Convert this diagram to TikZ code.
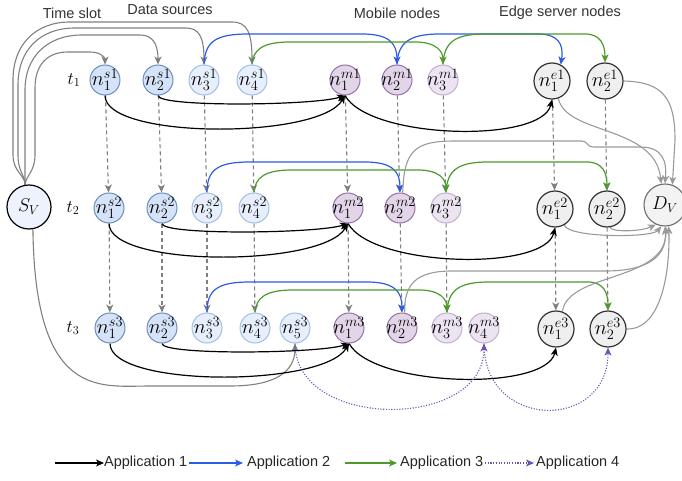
\RequirePackage{fix-cm}
\documentclass[tikz,border=0pt]{standalone}
\usepackage{fontspec}
\newfontfamily\hfont{Liberation Sans}
\usetikzlibrary{arrows.meta,calc}

\definecolor{srcfillA}{HTML}{D4E3F7}
\definecolor{srcdrawA}{HTML}{6C8EBF}
\definecolor{srcfillB}{HTML}{E6EFFB}
\definecolor{srcdrawB}{HTML}{A3BEE3}
\definecolor{mobfillA}{HTML}{E1D5E7}
\definecolor{mobdrawA}{HTML}{9673A6}
\definecolor{mobfillB}{HTML}{EDE4F1}
\definecolor{mobdrawB}{HTML}{C4AED0}
\definecolor{edgefill}{HTML}{EFEFEF}
\definecolor{edgedraw}{HTML}{333333}
\definecolor{svfill}{HTML}{EDF3FC}
\definecolor{dvfill}{HTML}{F3F3F3}
\definecolor{dvdraw}{HTML}{6E6E6E}
\definecolor{linkgray}{HTML}{9A9A9A}
\definecolor{dashgray}{HTML}{808080}
\definecolor{appblue}{HTML}{2D5BE3}
\definecolor{appgreen}{HTML}{4C9A2A}
\definecolor{apppurple}{HTML}{6A52B0}
\definecolor{hdrtext}{HTML}{333333}

\newcommand\nodesz{\fontsize{20.5}{20.5}\selectfont}
\newcommand\slotsz{\fontsize{17.5}{17.5}\selectfont}
\newcommand\termsz{\fontsize{18.5}{18.5}\selectfont}

\pgfdeclarelayer{edges}
\pgfsetlayers{edges,main}

\tikzset{
  nd/.style={circle, minimum size=30pt, inner sep=0pt, line width=1pt},
  lab/.style={font=\nodesz, inner sep=0pt, text=black},
  slotlab/.style={font=\slotsz, inner sep=0pt, text=black},
  termlab/.style={font=\termsz, inner sep=0pt, text=black},
  srcA/.style={nd, fill=srcfillA, draw=srcdrawA},
  srcB/.style={nd, fill=srcfillB, draw=srcdrawB},
  mobA/.style={nd, fill=mobfillA, draw=mobdrawA},
  mobB/.style={nd, fill=mobfillB, draw=mobdrawB},
  edgenode/.style={nd, minimum size=36pt, fill=edgefill, draw=edgedraw, line width=1.2pt},
  svnode/.style={nd, minimum size=44pt, fill=svfill, draw=black, line width=1.2pt},
  dvnode/.style={nd, minimum size=42pt, fill=dvfill, draw=dvdraw, line width=1.1pt},
  arr/.style={-{Stealth[length=8pt,width=7pt,inset=2.2pt]}},
  app1/.style={draw=black, line width=1.2pt, arr},
  app2/.style={draw=appblue, line width=1.2pt, arr},
  app3/.style={draw=appgreen, line width=1.2pt, arr},
  app4/.style={draw=apppurple, line width=1.1pt, dash pattern=on 1.1pt off 1.6pt, arr},
  dashlink/.style={draw=dashgray, line width=1.1pt, dash pattern=on 4pt off 3pt, arr},
  graylink/.style={draw=linkgray, line width=1.1pt, arr},
  svlink/.style={draw=dashgray, line width=1.1pt, arr},
  hdr/.style={font=\hfont\fontsize{14.5}{16}\selectfont, text=hdrtext, inner sep=0pt},
  legtext/.style={font=\hfont\fontsize{14.5}{16}\selectfont, text=black!85, inner sep=0pt, anchor=west},
}

\begin{document}
\begin{tikzpicture}[x=1pt,y=-1pt]
\useasboundingbox (0,0) rectangle (682,481);

% column headings
\node[hdr] (hts) at (72,13) {Time slot};
\node[hdr] (hds) at (170,10) {Data sources};
\node[hdr] (hmn) at (397,13) {Mobile nodes};
\node[hdr] (hen) at (560,13) {Edge server nodes};

% time slot labels
\node[slotlab] (t1) at (74,80) {$t_1$};
\node[slotlab] (t2) at (73,208) {$t_2$};
\node[slotlab] (t3) at (73,328) {$t_3$};

% virtual source and destination
\node[svnode, label={[termlab]center:$S_V$}] (SV) at (29,207) {};
\node[dvnode, label={[termlab]center:$D_V$}] (DV) at (665,205) {};

% time slot 1
\node[srcA, label={[lab]center:$n_1^{s1}$}] (n1s1) at (105,80) {};
\node[srcA, label={[lab]center:$n_2^{s1}$}] (n2s1) at (158,80) {};
\node[srcB, label={[lab]center:$n_3^{s1}$}] (n3s1) at (204,80) {};
\node[srcB, label={[lab]center:$n_4^{s1}$}] (n4s1) at (252,80) {};
\node[mobA, label={[lab]center:$n_1^{m1}$}] (n1m1) at (345,80) {};
\node[mobA, label={[lab]center:$n_2^{m1}$}] (n2m1) at (397,80) {};
\node[mobB, label={[lab]center:$n_3^{m1}$}] (n3m1) at (443,80) {};
\node[edgenode, label={[lab]center:$n_1^{e1}$}] (n1e1) at (552,81) {};
\node[edgenode, label={[lab]center:$n_2^{e1}$}] (n2e1) at (605,81) {};

% time slot 2
\node[srcA, label={[lab]center:$n_1^{s2}$}] (n1s2) at (109,208) {};
\node[srcA, label={[lab]center:$n_2^{s2}$}] (n2s2) at (162,208) {};
\node[srcB, label={[lab]center:$n_3^{s2}$}] (n3s2) at (207,208) {};
\node[srcB, label={[lab]center:$n_4^{s2}$}] (n4s2) at (254,208) {};
\node[mobA, label={[lab]center:$n_1^{m2}$}] (n1m2) at (348,208) {};
\node[mobA, label={[lab]center:$n_2^{m2}$}] (n2m2) at (400,208) {};
\node[mobB, label={[lab]center:$n_3^{m2}$}] (n3m2) at (446,208) {};
\node[edgenode, label={[lab]center:$n_1^{e2}$}] (n1e2) at (555,209) {};
\node[edgenode, label={[lab]center:$n_2^{e2}$}] (n2e2) at (607,209) {};

% time slot 3
\node[srcA, label={[lab]center:$n_1^{s3}$}] (n1s3) at (110,328) {};
\node[srcA, label={[lab]center:$n_2^{s3}$}] (n2s3) at (162,328) {};
\node[srcB, label={[lab]center:$n_3^{s3}$}] (n3s3) at (207,328) {};
\node[srcB, label={[lab]center:$n_4^{s3}$}] (n4s3) at (255,328) {};
\node[srcB, label={[lab]center:$n_5^{s3}$}] (n5s3) at (295,328) {};
\node[mobA, label={[lab]center:$n_1^{m3}$}] (n1m3) at (349,328) {};
\node[mobA, label={[lab]center:$n_2^{m3}$}] (n2m3) at (402,328) {};
\node[mobB, label={[lab]center:$n_3^{m3}$}] (n3m3) at (447,328) {};
\node[mobB, label={[lab]center:$n_4^{m3}$}] (n4m3) at (484,328) {};
\node[edgenode, label={[lab]center:$n_1^{e3}$}] (n1e3) at (556,329) {};
\node[edgenode, label={[lab]center:$n_2^{e3}$}] (n2e3) at (608,329) {};

\begin{pgfonlayer}{edges}
% a node carried over to the next time slot
\foreach \a/\b in {n1s1/n1s2, n2s1/n2s2, n3s1/n3s2, n4s1/n4s2,
                   n1m1/n1m2, n2m1/n2m2, n3m1/n3m2, n1e1/n1e2, n2e1/n2e2,
                   n1s2/n1s3, n2s2/n2s3, n3s2/n3s3, n4s2/n4s3,
                   n1m2/n1m3, n2m2/n2m3, n3m2/n3m3, n1e2/n1e3, n2e2/n2e3}
  \draw[dashlink] (\a) -- (\b);

% virtual source to the data sources
\draw[svlink] (SV.100) .. controls (25,175) and (13,172) .. (13,155) -- (13,80)
  .. controls (13,45) and (35,22) .. (70,22) -- (232,22)
  .. controls (247,22) and (252,32) .. (n4s1.north);
\draw[svlink] (SV.100) .. controls (25,175) and (18,172) .. (18,155) -- (18,85)
  .. controls (18,50) and (40,28) .. (75,28) -- (186,28)
  .. controls (199,28) and (204,37) .. (n3s1.north);
\draw[svlink] (SV.100) .. controls (25,175) and (25,172) .. (25,155) -- (25,90)
  .. controls (25,57) and (47,35) .. (82,35) -- (140,35)
  .. controls (152,35) and (158,43) .. (n2s1.north);
\draw[svlink] (SV.100) .. controls (26,175) and (35,172) .. (35,155) -- (35,88)
  .. controls (35,65) and (47,52) .. (68,52) -- (90,52)
  .. controls (100,52) and (105,57) .. (n1s1.north);
\draw[svlink] (SV.-80) .. controls (35,400) and (100,386) .. (150,386) -- (230,386)
  .. controls (275,386) and (295,372) .. (n5s3.south);

% application 1
\foreach \k in {1,2,3} {
  \draw[app1] (n1s\k.south) .. controls +(0,44) and +(-26,44) .. (n1m\k.south);
  \draw[app1] (n2s\k.south) .. controls +(0,12) and +(-30,10) .. (n1m\k.south);
  \draw[app1] (n1m\k.south) .. controls +(25,44) and +(-10,44) .. (n1e\k.south);
}

% application 2
\draw[app2] (n3s1.north) .. controls (205,42) and (215,34) .. (248,34) -- (362,34)
  .. controls (390,34) and (397,44) .. (n2m1.north);
\draw[app2] (n2m1.north) .. controls (398,42) and (410,34) .. (440,34) -- (538,34)
  .. controls (558,34) and (564,44) .. (n1e1.62);
\draw[app2] (n3s2.north) .. controls (207,170) and (217,162) .. (250,162) -- (365,162)
  .. controls (393,162) and (400,172) .. (n2m2.north);
\draw[app2] (n3s3.north) .. controls (207,290) and (217,282) .. (250,282) -- (367,282)
  .. controls (395,282) and (402,292) .. (n2m3.north);

% application 3
\draw[app3] (n4s1.north) .. controls (253,50) and (262,42) .. (290,42) -- (415,42)
  .. controls (437,42) and (443,52) .. (n3m1.north);
\draw[app3] (n3m1.north) .. controls (444,42) and (455,34) .. (485,34) -- (585,34)
  .. controls (600,34) and (605,44) .. (n2e1.north);
\draw[app3] (n4s2.north) .. controls (255,178) and (264,170) .. (292,170) -- (418,170)
  .. controls (440,170) and (446,180) .. (n3m2.north);
\draw[app3] (n3m2.north) .. controls (447,170) and (458,162) .. (488,162) -- (587,162)
  .. controls (602,162) and (607,172) .. (n2e2.north);
\draw[app3] (n4s3.north) .. controls (256,298) and (265,290) .. (293,290) -- (419,290)
  .. controls (441,290) and (447,300) .. (n3m3.north);
\draw[app3] (n3m3.north) .. controls (448,290) and (459,282) .. (489,282) -- (588,282)
  .. controls (603,282) and (608,292) .. (n2e3.north);

% application 4
\draw[app4] (n5s3.south) .. controls +(0,87) and +(0,87) .. (n4m3.south);
\draw[app4] (n4m3.south) .. controls +(0,87) and +(0,84) .. (n2e3.south);

% into the virtual destination
\draw[graylink] (n1e1.-70) .. controls (566,135) and (655,125) .. (DV.100);
\draw[graylink] (n2e1.east) .. controls (663,82) and (675,98) .. (675,140) -- (DV.70);
\draw[graylink] (n2m2.80) .. controls (404,150) and (415,141) .. (455,141) -- (582,141)
  .. controls (588,141) and (586,147) .. (594,147) -- (640,147)
  .. controls (662,147) and (667,160) .. (DV.90);
\draw[graylink] (n2e2.-80) .. controls (610,232) and (640,232) .. (DV.-115);
\draw[graylink] (n1e2.-60) .. controls (568,238) and (652,238) .. (DV.-100);
\draw[graylink] (n2m3.80) .. controls (404,285) and (415,271) .. (452,271) -- (605,271)
  .. controls (650,271) and (667,255) .. (DV.-90);
\draw[graylink] (n1e3.70) .. controls (568,272) and (667,282) .. (DV.-88);
\draw[graylink] (n2e3.east) .. controls (662,330) and (670,270) .. (DV.-80);
\end{pgfonlayer}

% legend
\node[legtext] (l1) at (104,463) {Application 1};
\node[legtext] (l2) at (247,463) {Application 2};
\node[legtext] (l3) at (400,463) {Application 3};
\node[legtext] (l4) at (536,463) {Application 4};
\coordinate (l1s) at (55,463);
\coordinate (l2s) at (189,463);
\coordinate (l3s) at (345,463);
\coordinate (l4s) at (485,463);
\draw[app1] (l1s) -- (l1.west);
\draw[app2, shorten >=4pt] (l2s) -- (l2.west);
\draw[app3, shorten >=3pt] (l3s) -- (l3.west);
\draw[app4, shorten >=2pt] (l4s) -- (l4.west);
\end{tikzpicture}
\end{document}
